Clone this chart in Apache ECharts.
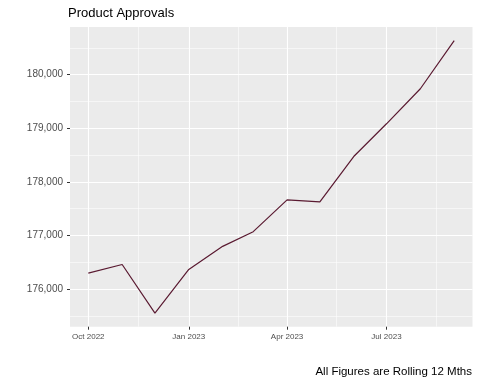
<!DOCTYPE html>
<html>
<head>
<meta charset="utf-8">
<script src="https://cdn.jsdelivr.net/npm/echarts@6/dist/echarts.min.js"></script>
<style>html,body{margin:0;padding:0;background:#fff}#c{width:480px;height:384px}</style>
</head>
<body>
<div id="c"></div>
<script>
const months = ['2022-10-01','2022-11-01','2022-12-01','2023-01-01','2023-02-01','2023-03-01','2023-04-01','2023-05-01','2023-06-01','2023-07-01','2023-08-01','2023-09-01'];
const approvals = [176298, 176459, 175552, 176366, 176797, 177071, 177664, 177626, 178473, 179084, 179738, 180636];
const xTickDates = ['2022-10-01','2023-01-01','2023-04-01','2023-07-01'];
const xTickLabels = ['Oct 2022','Jan 2023','Apr 2023','Jul 2023'];
const xMinorDates = ['2022-11-16','2023-02-15','2023-05-16','2023-08-16'];
const yTicks = [176000, 177000, 178000, 179000, 180000];
const yMinor = [175500, 176500, 177500, 178500, 179500, 180500];
const titleText = 'Product Approvals';
const captionText = 'All Figures are Rolling 12 Mths';

const ts = months.map(d => Date.parse(d));
const xMajor = xTickDates.map(d => Date.parse(d));
const xMinor = xMinorDates.map(d => Date.parse(d));
const tMin = Math.min(...ts), tMax = Math.max(...ts);
const vMin = Math.min(...approvals), vMax = Math.max(...approvals);
const xLo = tMin - 0.05 * (tMax - tMin), xHi = tMax + 0.05 * (tMax - tMin);
const yLo = vMin - 0.05 * (vMax - vMin), yHi = vMax + 0.05 * (vMax - vMin);

const fmtNum = v => Math.round(v).toLocaleString('en-US');
const fmtDate = v => {
  let best = 0, bd = Infinity;
  xMajor.forEach((m, i) => { const d = Math.abs(m - v); if (d < bd) { bd = d; best = i; } });
  return bd < 86400000 ? xTickLabels[best] : '';
};

const chart = echarts.init(document.getElementById('c'), null, {renderer: 'canvas'});
chart.setOption({
  animation: false,
  backgroundColor: '#ffffff',
  textStyle: {fontFamily: 'Liberation Sans, Arial, sans-serif'},
  title: [
    {text: titleText, left: 68, top: 7, padding: 0, textStyle: {fontSize: 13, fontWeight: 'normal', color: '#000'}},
    {text: captionText, right: 8, top: 366, padding: 0, textStyle: {fontSize: 11.5, fontWeight: 'normal', color: '#000'}}
  ],
  grid: {left: 70, right: 7.5, top: 27, bottom: 57.3, show: true, backgroundColor: '#EBEBEB', borderWidth: 0},
  xAxis: [
    {
      type: 'value', min: xLo, max: xHi, scale: true,
      axisLine: {show: false},
      axisTick: {show: true, length: 3, lineStyle: {color: '#333', width: 1}, customValues: xMajor},
      axisLabel: {show: true, customValues: xMajor, formatter: fmtDate, fontSize: 8, color: '#4D4D4D', margin: 6, hideOverlap: false, showMinLabel: true, showMaxLabel: true},
      splitLine: {show: true, lineStyle: {color: '#fff', width: 1.1}}
    },
    {
      type: 'value', min: xLo, max: xHi, scale: true, position: 'bottom',
      axisLine: {show: false},
      axisTick: {show: false, customValues: xMinor},
      axisLabel: {show: false, customValues: xMinor},
      splitLine: {show: true, lineStyle: {color: '#fff', width: 0.55}}
    }
  ],
  yAxis: [
    {
      type: 'value', min: yLo, max: yHi, scale: true,
      axisLine: {show: false},
      axisTick: {show: true, length: 3, lineStyle: {color: '#333', width: 1}, customValues: yTicks},
      axisLabel: {show: true, customValues: yTicks, formatter: fmtNum, fontSize: 10, color: '#4D4D4D', margin: 7},
      splitLine: {show: true, lineStyle: {color: '#fff', width: 1.1}}
    },
    {
      type: 'value', min: yLo, max: yHi, scale: true, position: 'left',
      axisLine: {show: false},
      axisTick: {show: false, customValues: yMinor},
      axisLabel: {show: false, customValues: yMinor},
      splitLine: {show: true, lineStyle: {color: '#fff', width: 0.55}}
    }
  ],
  series: [{
    type: 'line',
    xAxisIndex: 0, yAxisIndex: 0,
    data: ts.map((t, i) => [t, approvals[i]]),
    showSymbol: false, symbol: 'none',
    lineStyle: {color: '#5A1A31', width: 1.2},
    z: 5
  }]
});
</script>
</body>
</html>
